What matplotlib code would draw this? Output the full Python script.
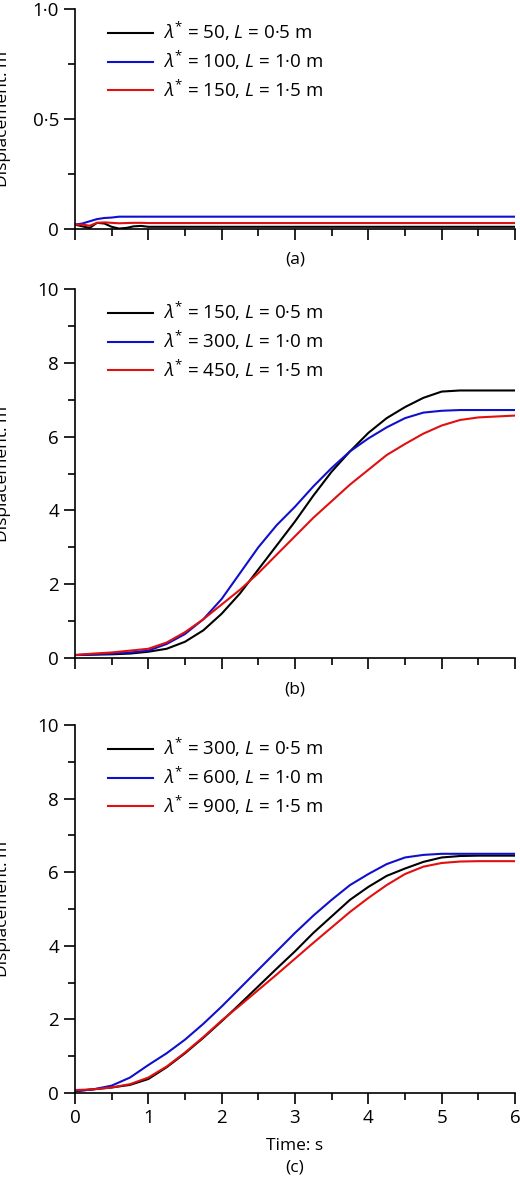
import matplotlib
matplotlib.use("Agg")
import matplotlib.pyplot as plt
from matplotlib.ticker import FixedLocator, FixedFormatter, MultipleLocator

plt.rcParams['font.family'] = ['Open Sans', 'DejaVu Sans']
plt.rcParams['mathtext.fontset'] = 'custom'
plt.rcParams['mathtext.rm'] = 'Open Sans'
plt.rcParams['mathtext.it'] = 'Open Sans:italic'
plt.rcParams['font.size'] = 13.5

# panel (a)
t_a = [0, 0.1, 0.2, 0.3, 0.4, 0.5, 0.6, 0.7, 0.8, 0.9, 1.0, 1.5, 6.0]
a_black = [0.02, 0.012, 0.005, 0.028, 0.025, 0.01, 0.002, 0.005, 0.012, 0.014, 0.01, 0.01, 0.01]
a_blue = [0.02, 0.025, 0.035, 0.045, 0.05, 0.052, 0.056, 0.056, 0.056, 0.056, 0.056, 0.056, 0.056]
a_red = [0.02, 0.02, 0.015, 0.028, 0.03, 0.028, 0.026, 0.027, 0.028, 0.028, 0.027, 0.027, 0.027]

# time for panels (b) and (c)
t_bc = [0, 0.25, 0.5, 0.75, 1.0, 1.25, 1.5, 1.75, 2.0, 2.25, 2.5, 2.75, 3.0, 3.25,
        3.5, 3.75, 4.0, 4.25, 4.5, 4.75, 5.0, 5.25, 5.5, 6.0]

# panel (b)
b_black = [0.08, 0.09, 0.1, 0.12, 0.17, 0.25, 0.44, 0.75, 1.2, 1.75, 2.4, 3.05, 3.7, 4.4,
           5.05, 5.6, 6.1, 6.5, 6.8, 7.05, 7.22, 7.25, 7.25, 7.25]
b_blue = [0.08, 0.1, 0.12, 0.15, 0.2, 0.38, 0.65, 1.05, 1.6, 2.3, 3.0, 3.6, 4.1, 4.65,
          5.15, 5.6, 5.95, 6.25, 6.5, 6.65, 6.7, 6.72, 6.72, 6.72]
b_red = [0.08, 0.12, 0.15, 0.2, 0.25, 0.42, 0.7, 1.05, 1.45, 1.85, 2.3, 2.8, 3.3, 3.8,
         4.25, 4.7, 5.1, 5.5, 5.8, 6.08, 6.3, 6.45, 6.52, 6.57]

# panel (c)
c_black = [0.05, 0.1, 0.15, 0.22, 0.38, 0.7, 1.08, 1.5, 1.95, 2.42, 2.9, 3.38, 3.85, 4.35,
           4.8, 5.25, 5.6, 5.9, 6.1, 6.28, 6.4, 6.44, 6.45, 6.45]
c_blue = [0.05, 0.1, 0.2, 0.42, 0.76, 1.08, 1.45, 1.88, 2.35, 2.85, 3.35, 3.85, 4.35, 4.82,
          5.25, 5.65, 5.95, 6.22, 6.4, 6.47, 6.5, 6.5, 6.5, 6.5]
c_red = [0.08, 0.1, 0.15, 0.24, 0.42, 0.72, 1.1, 1.52, 1.97, 2.38, 2.8, 3.22, 3.65, 4.08,
         4.5, 4.92, 5.3, 5.65, 5.95, 6.15, 6.25, 6.29, 6.3, 6.3]

labels_a = ["50, $L$ = 0·5 m", "100, $L$ = 1·0 m", "150, $L$ = 1·5 m"]
labels_b = ["150, $L$ = 0·5 m", "300, $L$ = 1·0 m", "450, $L$ = 1·5 m"]
labels_c = ["300, $L$ = 0·5 m", "600, $L$ = 1·0 m", "900, $L$ = 1·5 m"]
colors = ['black', '#1010cc', '#e01010']

fig = plt.figure(figsize=(5.2, 11.78), dpi=100)
left, width = 75 / 520, 440 / 520
ax_a = fig.add_axes([left, 949 / 1178, width, 220 / 1178])
ax_b = fig.add_axes([left, 520 / 1178, width, 369 / 1178])
ax_c = fig.add_axes([left, 85 / 1178, width, 368 / 1178])

panels = [
    (ax_a, t_a, [a_black, a_blue, a_red], labels_a, 1.0, [0, 0.5, 1.0], ['0', '0·5', '1·0'], 0.25, '(a)', 259),
    (ax_b, t_bc, [b_black, b_blue, b_red], labels_b, 10, [0, 2, 4, 6, 8, 10], ['0', '2', '4', '6', '8', '10'], 1, '(b)', 690),
    (ax_c, t_bc, [c_black, c_blue, c_red], labels_c, 10, [0, 2, 4, 6, 8, 10], ['0', '2', '4', '6', '8', '10'], 1, '(c)', 1168),
]

for ax, t, series, labs, ymax, yt, ytl, ymin_step, tag, tag_y in panels:
    for y, c, lab in zip(series, colors, labs):
        ax.plot(t, y, color=c, lw=1.5, label=r"$\lambda^{*}$ = " + lab)
    ax.set_xlim(0, 6)
    ax.set_ylim(0, ymax)
    for s in ['top', 'right']:
        ax.spines[s].set_visible(False)
    for s in ['left', 'bottom']:
        ax.spines[s].set_linewidth(1.2)
    ax.yaxis.set_major_locator(FixedLocator(yt))
    ax.yaxis.set_major_formatter(FixedFormatter(ytl))
    ax.yaxis.set_minor_locator(MultipleLocator(ymin_step))
    ax.xaxis.set_major_locator(MultipleLocator(1))
    ax.xaxis.set_minor_locator(MultipleLocator(0.5))
    ax.tick_params(which='major', direction='out', length=8, width=1.2)
    ax.tick_params(which='minor', direction='out', length=5, width=1.2)
    ax.set_ylabel("Displacement: m", fontsize=12.5)
    ax.yaxis.set_label_coords(-0.145, 0.5)
    ax.legend(loc='upper left', frameon=False, handlelength=2.4, handletextpad=0.5,
              borderaxespad=0.2, labelspacing=0.3, bbox_to_anchor=(0.05, 1.0))
    if tag != '(c)':
        ax.tick_params(axis='x', labelbottom=False)
    else:
        ax.set_xlabel("Time: s", fontsize=12.5, labelpad=8)
    fig.text(0.5 * (75 + 515) / 520, 1 - tag_y / 1178, tag, ha='center', va='center',
             fontsize=12.5)

fig.savefig("out.png", dpi=100)
